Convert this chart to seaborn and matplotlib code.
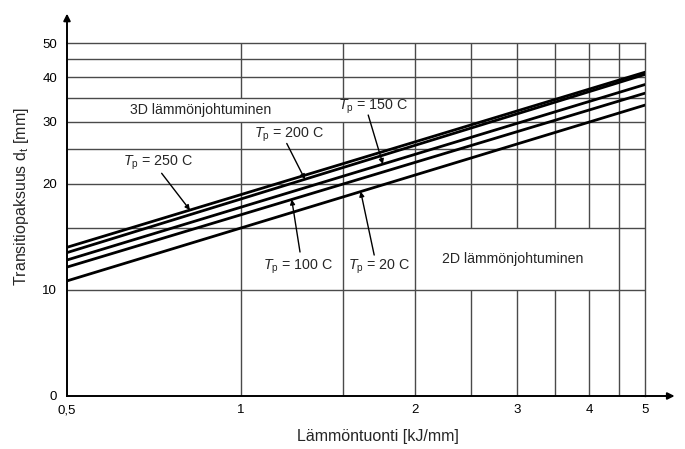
import numpy as np
import pandas as pd
import matplotlib
matplotlib.use("Agg")
import matplotlib.pyplot as plt
import matplotlib.ticker as mticker
import seaborn as sns

# ---- data ----
heat_input = [0.5, 5.0]                      # kJ/mm
temps = ["250", "200", "150", "100", "20"]   # preheat temperature T_p (C)
d_250 = [13.2, 41.4]
d_200 = [12.75, 40.8]
d_150 = [12.15, 38.2]
d_100 = [11.6, 36.1]
d_20 = [10.6, 33.4]
x_ticks = [0.5, 1, 2, 3, 4, 5]
x_ticklabels = ["0,5", "1", "2", "3", "4", "5"]
y_ticks = [5, 10, 20, 30, 40, 50]
y_ticklabels = ["0", "10", "20", "30", "40", "50"]
h_grid = [10, 15, 20, 25, 30, 35, 40, 45]
v_grid = [1, 1.5, 2, 2.5, 3, 3.5, 4, 4.5]

series = {"250": d_250, "200": d_200, "150": d_150, "100": d_100, "20": d_20}
df = pd.concat([pd.DataFrame({"x": heat_input, "y": v, "T": t}) for t, v in series.items()])

sns.set_theme(style="white")
plt.rcParams["font.family"] = ["Liberation Sans", "DejaVu Sans"]
plt.rcParams["mathtext.fontset"] = "custom"
plt.rcParams["mathtext.rm"] = "Liberation Sans"
plt.rcParams["mathtext.it"] = "Liberation Sans:italic"

fig = plt.figure(figsize=(6.85, 4.49), dpi=100)
ax = fig.add_axes([67 / 685, 53 / 449, 578 / 685, 352.7 / 449])

grid_c = "#4a4a4a"
# horizontal grid lines
ax.hlines(h_grid, 0.5, 5, color=grid_c, lw=1.0, zorder=1)
# vertical grid lines (with gaps behind the label boxes)
for xv in v_grid:
    if xv in (1, 1.5):
        segs = [(5, 30), (35, 50)]
    elif xv in (2.5, 3, 3.5, 4):
        segs = [(5, 10), (15, 50)]
    else:
        segs = [(5, 50)]
    for a, b in segs:
        ax.vlines(xv, a, b, color=grid_c, lw=1.0, zorder=1)

sns.lineplot(data=df, x="x", y="y", hue="T", palette=["black"] * 5,
             legend=False, lw=2.0, ax=ax, zorder=3)

ax.set_xscale("log")
ax.set_yscale("log")
ax.set_xlim(0.5, 5)
ax.set_ylim(5, 50)
ax.xaxis.set_major_locator(mticker.FixedLocator(x_ticks))
ax.xaxis.set_major_formatter(mticker.FixedFormatter(x_ticklabels))
ax.yaxis.set_major_locator(mticker.FixedLocator(y_ticks))
ax.yaxis.set_major_formatter(mticker.FixedFormatter(y_ticklabels))
ax.xaxis.set_minor_locator(mticker.NullLocator())
ax.yaxis.set_minor_locator(mticker.NullLocator())
ax.tick_params(length=0, labelsize=9.5, colors="black")
ax.tick_params(axis="x", pad=6)
ax.tick_params(axis="y", pad=7)
ax.set_xlabel("")
ax.set_ylabel("")

for s in ["left", "bottom"]:
    ax.spines[s].set_color("black")
    ax.spines[s].set_linewidth(1.4)
for s in ["top", "right"]:
    ax.spines[s].set_color(grid_c)
    ax.spines[s].set_linewidth(1.0)

# axis arrows
arr = dict(arrowstyle="-|>", color="black", lw=1.4, mutation_scale=10)
ax.annotate("", xy=(0, 1.092), xytext=(0, 0.99), xycoords="axes fraction",
            arrowprops=arr, annotation_clip=False)
ax.annotate("", xy=(1.056, 0), xytext=(0.99, 0), xycoords="axes fraction",
            arrowprops=arr, annotation_clip=False)

def line_val(vals, x):
    lx0, lx1 = np.log10(heat_input)
    ly0, ly1 = np.log10(vals)
    t = (np.log10(x) - lx0) / (lx1 - lx0)
    return 10 ** (ly0 + t * (ly1 - ly0))

labels = [
    ("250", (0.718, 22.9), (0.729, 21.4), 0.816),
    ("200", (1.21, 27.5), (1.20, 26.0), 1.29),
    ("150", (1.69, 33.0), (1.66, 31.3), 1.76),
    ("100", (1.255, 11.6), (1.265, 12.8), 1.224),
    ("20", (1.733, 11.6), (1.70, 12.55), 1.611),
]
a_props = dict(arrowstyle="-|>", color="black", lw=1.0, mutation_scale=7,
               shrinkA=0, shrinkB=0)
for t, txy, start, tipx in labels:
    ax.text(txy[0], txy[1], r"$T_{\mathrm{p}}$" + f" = {t} C", fontsize=10.3,
            ha="center", va="center", zorder=5)
    ax.annotate("", xy=(tipx, line_val(series[t], tipx)), xytext=start,
                arrowprops=a_props, zorder=4)

ax.text(0.85, 32.4, "3D lämmönjohtuminen", fontsize=10.2, ha="center", va="center")
ax.text(2.955, 12.2, "2D lämmönjohtuminen", fontsize=10.2, ha="center", va="center")

fig.text(378 / 685, 1 - 437 / 449, "Lämmöntuonti [kJ/mm]", fontsize=11.5,
         ha="center", va="center")
fig.text(22 / 685, 1 - 197 / 449, r"Transitiopaksuus d$_{\mathrm{t}}$ [mm]",
         fontsize=11.5, ha="center", va="center", rotation=90)

fig.savefig("out.png", dpi=100)
